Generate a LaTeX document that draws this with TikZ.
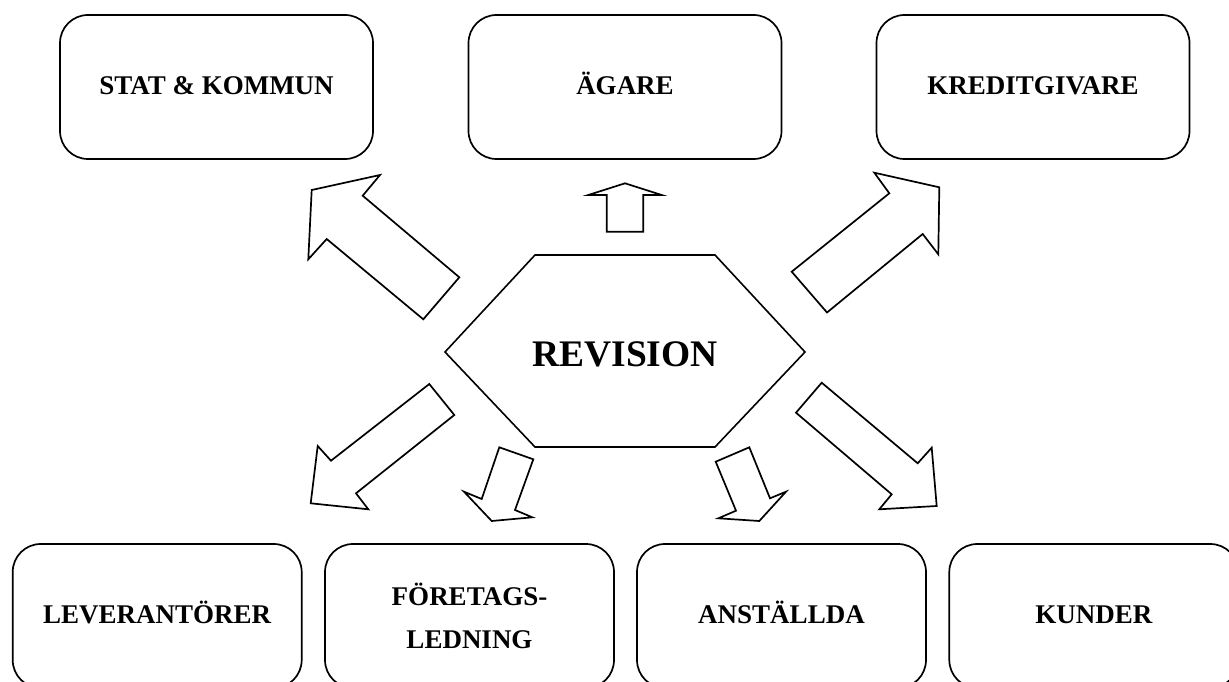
\documentclass[tikz,border=0pt]{standalone}
\usepackage{fontspec}
\setmainfont{Liberation Serif}
\begin{document}
\begin{tikzpicture}[x=1pt,y=-1pt,
  boxfont/.style={font=\fontsize{27}{40}\bfseries\selectfont},
  box/.style={draw, line width=1.7pt, rounded corners=28pt, inner sep=0pt,
    minimum height=144pt, align=center, text height=19pt, text depth=4pt, boxfont},
  topbox/.style={box, minimum width=313pt},
  botbox/.style={box, minimum width=289pt},
  blockarrow/.style={draw, line width=1.7pt, line join=miter, fill=white},
  hexline/.style={draw, line width=1.6pt, line join=miter}]
\useasboundingbox (0,0) rectangle (1229,682);
\clip (0,0) rectangle (1229,682);
% top boxes
\node[topbox] (stat) at (216.5,87) {STAT \& KOMMUN};
\node[topbox] (agare) at (625,87) {ÄGARE};
\node[topbox] (kredit) at (1033,87) {KREDITGIVARE};
% bottom boxes
\node[botbox] (lev) at (157.2,616) {LEVERANTÖRER};
\node[botbox] (ftl) at (469.5,616) {};
\node[boxfont, align=center, inner sep=0pt] (ftltext) at (469.5,616) {FÖRETAGS-\\[3pt]LEDNING};
\node[botbox] (anst) at (781.5,616) {ANSTÄLLDA};
\node[botbox] (kund) at (1093.8,616) {KUNDER};
% hexagon
\draw[hexline] (535,255) -- (715,255) -- (805,352) -- (715,447) -- (535,447) -- (445,352) -- cycle;
\node[font=\fontsize{37.5}{40}\bfseries\selectfont] (rev) at (625,354) {REVISION};
% block arrows
\draw[blockarrow] (311.7,190) -- (380,175) -- (362.7,195.7) -- (459.3,277.3) -- (423.3,319.3) -- (326.7,239) -- (308.3,259.3) -- cycle;
\draw[blockarrow] (625,183.3) -- (661.7,195) -- (643.3,195) -- (643.3,231.7) -- (606.7,231.7) -- (606.7,195) -- (588.3,195) -- cycle;
\draw[blockarrow] (939.3,187.3) -- (938.3,254.3) -- (922.7,234) -- (827,312.5) -- (791.7,271.7) -- (889.3,193.3) -- (874.3,172.7) -- cycle;
\draw[blockarrow] (310.7,503.3) -- (317.7,446) -- (331,460.7) -- (429.3,384) -- (454.3,415) -- (356,493.3) -- (368.3,509.3) -- cycle;
\draw[blockarrow] (491.7,521) -- (464,491.7) -- (481.7,499) -- (499.3,447.3) -- (533.3,459.3) -- (515,510) -- (532.3,517.3) -- cycle;
\draw[blockarrow] (759.3,521) -- (718.3,518.3) -- (736,510.7) -- (715.7,461.7) -- (749.3,447.3) -- (770,498.3) -- (786,491.7) -- cycle;
\draw[blockarrow] (936.7,506) -- (879.3,509.3) -- (891.7,494.3) -- (796,412.7) -- (821.7,382.7) -- (917.7,463.3) -- (931.7,447.7) -- cycle;
\end{tikzpicture}
\end{document}
